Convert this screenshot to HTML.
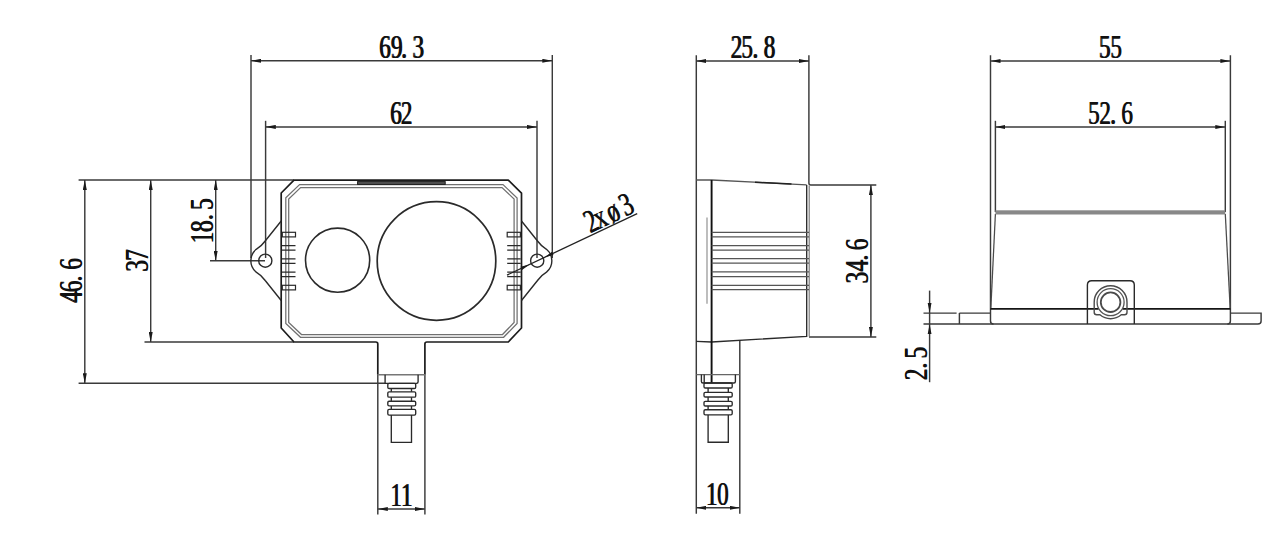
<!DOCTYPE html>
<html><head><meta charset="utf-8">
<style>
html,body{margin:0;padding:0;background:#fff;overflow:hidden;}
svg{display:block;}
text{font-family:"Liberation Serif",serif;}
.d{stroke:#3a3a3a;stroke-width:1.45;fill:none;}
.o{stroke:#1c1c1c;stroke-width:1.7;fill:none;stroke-linejoin:round;}
.m{stroke:#2a2a2a;stroke-width:1.5;fill:none;}
.g{stroke:#707070;stroke-width:1.25;fill:none;}
.a{fill:#1a1a1a;stroke:none;}
</style></head>
<body>
<svg width="1276" height="535" viewBox="0 0 1276 535">
<defs>
<marker id="ar" viewBox="0 0 10 4" refX="10" refY="2" markerWidth="10" markerHeight="4" markerUnits="userSpaceOnUse" orient="auto-start-reverse">
<path d="M0,0 L10,2 L0,4 Z" fill="#1a1a1a"/>
</marker>
</defs>

<!-- ===== FRONT VIEW ===== -->
<g class="d">
<line x1="251" y1="55" x2="251" y2="258"/>
<line x1="552.3" y1="55" x2="552.3" y2="258"/>
<line x1="265.6" y1="120.8" x2="265.6" y2="258"/>
<line x1="537" y1="120.8" x2="537" y2="258"/>
<line x1="78.6" y1="180" x2="294" y2="180"/>
<line x1="144.5" y1="342" x2="294" y2="342"/>
<line x1="78.6" y1="383.3" x2="385.1" y2="383.3"/>
<line x1="210" y1="260.7" x2="265" y2="260.7"/>
</g>
<g class="d" marker-start="url(#ar)" marker-end="url(#ar)">
<line x1="251" y1="60.8" x2="552.3" y2="60.8"/>
<line x1="265.8" y1="126.9" x2="537" y2="126.9"/>
<line x1="84.8" y1="180" x2="84.8" y2="383.3"/>
<line x1="150.7" y1="180" x2="150.7" y2="342"/>
<line x1="215.7" y1="180" x2="215.7" y2="260.8"/>
<line x1="377.8" y1="509" x2="424.9" y2="509"/>
</g>

<!-- body outline -->
<path class="o" d="M424.9,374.7 L424.9,344 Q424.9,342 426.9,342 L508.3,342 L521.5,328 L521.5,193.2 L508.3,180.2 L294,180.2 L281.2,193 L281.2,328 L294,342 L375.8,342 Q377.8,342 377.8,344 L377.8,374.7"/>
<!-- inner double lines -->
<path class="g" d="M299.6,184.6 L503,184.6 L517.1,198 L517.1,323.5 L503.6,337.3 L300.5,337.3 L285.8,323.5 L285.8,197.8 Z"/>
<path class="g" d="M300.6,187.6 L502,187.6 L514.1,199 L514.1,322.5 L502.5,334.5 L301.5,334.5 L288.7,322.5 L288.7,199 Z"/>
<rect x="357.6" y="181.6" width="87.6" height="2.8" fill="#555" stroke="#1c1c1c" stroke-width="1"/>

<!-- lenses -->
<circle class="m" cx="337.6" cy="260.2" r="32.1" style="stroke-width:1.6"/>
<circle class="m" cx="436.5" cy="261" r="59.3" style="stroke-width:1.7"/>

<!-- slots -->
<g class="m" style="stroke-width:1.2">
<rect x="282.3" y="232.3" width="13.2" height="4.6"/>
<rect x="282.3" y="285.3" width="13.2" height="4.6"/>
<path d="M282,245.6 H295.5 M282,250.2 H295.5 M282,258.8 H295.5 M282,263.4 H295.5 M282,272.1 H295.5 M282,276.7 H295.5"/>
<rect x="507.2" y="232.3" width="13.2" height="4.6"/>
<rect x="507.2" y="285.3" width="13.2" height="4.6"/>
<path d="M507.2,245.6 H520.7 M507.2,250.2 H520.7 M507.2,258.8 H520.7 M507.2,263.4 H520.7 M507.2,272.1 H520.7 M507.2,276.7 H520.7"/>
</g>

<!-- ears -->
<g class="m" style="stroke-width:1.4">
<path d="M521.5,221 L537.5,241 Q541.5,246.5 546.5,249.3 A14.8,14.8 0 0 1 546.5,272.1 Q541.5,275 537.5,280.5 L521.5,300.5"/>
<path d="M281.2,221 L265.2,241 Q261.2,246.5 256.2,249.3 A14.8,14.8 0 0 0 256.2,272.1 Q261.2,275 265.2,280.5 L281.2,300.5"/>
<circle cx="537.2" cy="260.7" r="6.6"/>
<circle cx="265.3" cy="260.7" r="6.6"/>
</g>
<!-- leader 2xø3 -->
<line x1="507" y1="275.1" x2="637.2" y2="213.6" stroke="#222" stroke-width="1.3"/>
<path class="a" d="M553.57,255.03 L552.03,251.77 L544.66,257.24 Z"/>
<path class="a" d="M522.07,269.93 L520.53,266.67 L529.44,264.46 Z"/>

<!-- connector front -->
<g class="d">
<line x1="377.8" y1="374.7" x2="377.8" y2="514.6"/>
<line x1="424.9" y1="374.7" x2="424.9" y2="514.6"/>
</g>
<g class="m" style="stroke-width:1.35">
<line x1="377.8" y1="374.7" x2="424.9" y2="374.7" style="stroke:#777"/>
<path d="M385.1,374.7 V383.3 H416.6 Q418.1,383.3 418.1,381.8 V374.7"/>
<rect x="387.8" y="383.3" width="27.9" height="5.2" rx="1.3"/>
<rect x="387.8" y="391.8" width="27.9" height="5.4" rx="1.3"/>
<rect x="387.8" y="401.2" width="27.9" height="4.7" rx="1.3"/>
<rect x="387.8" y="409.4" width="27.9" height="5.7" rx="1.3"/>
<path d="M391.3,388.5 V391.8 M411.5,388.5 V391.8 M391.3,397.2 V401.2 M411.5,397.2 V401.2 M391.3,405.9 V409.4 M411.5,405.9 V409.4 M391.3,415.1 V442.3 H411.5 V415.1"/>
</g>

<!-- ===== SIDE VIEW ===== -->
<g class="d">
<line x1="696.3" y1="55.3" x2="696.3" y2="513.7"/>
<path d="M808.9,55.3 V183 Q808.9,184.9 810.8,184.9 H876.3"/>
<line x1="809" y1="337" x2="876.3" y2="337"/>
<line x1="739.8" y1="340" x2="739.8" y2="513.7"/>
</g>
<g class="d" marker-start="url(#ar)" marker-end="url(#ar)">
<line x1="696.3" y1="61" x2="809" y2="61"/>
<line x1="870.9" y1="185" x2="870.9" y2="337"/>
<line x1="696.3" y1="507.8" x2="739.8" y2="507.8"/>
</g>
<path d="M696.3,180 L711.6,180 L806.7,184.9" stroke="#555" stroke-width="1.3" fill="none"/>
<path d="M809.2,185.5 V336.5" stroke="#777" stroke-width="1.15" fill="none"/>
<line x1="755" y1="182.24" x2="791.5" y2="184.12" stroke="#222" stroke-width="1.5"/>
<path class="m" d="M806.7,184.9 L806.7,336.3 L711.6,342 L696.3,341.4" style="stroke-width:1.35"/>
<line x1="711.6" y1="180" x2="711.6" y2="383" stroke="#111" stroke-width="1.9"/>
<line x1="707" y1="217.6" x2="707" y2="303.8" stroke="#888" stroke-width="1.1"/>
<path class="g" style="stroke:#555;stroke-width:1.3" d="M711.6,232.3 H809 M711.6,236.9 H809 M711.6,245.6 H809 M711.6,250.2 H809 M711.6,258.6 H809 M711.6,263.1 H809 M711.6,271.9 H809 M711.6,276.6 H809 M711.6,285.3 H809 M711.6,289.7 H809"/>
<g class="m" style="stroke-width:1.35">
<line x1="696.3" y1="374.6" x2="739.8" y2="374.6" style="stroke:#666"/>
<path d="M701.4,374.6 V381.5 Q701.4,383 703,383 H733.9 Q735.4,383 735.4,381.5 V374.6 M704.2,374.6 V383"/>
<rect x="704" y="383" width="28.2" height="5" rx="1.3"/>
<rect x="704" y="392.3" width="28.2" height="4.7" rx="1.3"/>
<rect x="704" y="401.3" width="28.2" height="4.7" rx="1.3"/>
<rect x="704" y="409.7" width="28.2" height="5.2" rx="1.3"/>
<path d="M708.1,388 V392.3 M728.3,388 V392.3 M708.1,397 V401.3 M728.3,397 V401.3 M708.1,406 V409.7 M728.3,406 V409.7 M708.1,414.9 V442.2 H728.3 V414.9"/>
</g>

<!-- ===== END VIEW ===== -->
<g class="d">
<line x1="990.5" y1="55.3" x2="990.5" y2="321"/>
<line x1="1230.4" y1="55.3" x2="1230.4" y2="321"/>
<line x1="995.4" y1="120.8" x2="995.4" y2="212"/>
<line x1="1225.3" y1="120.8" x2="1225.3" y2="212"/>
</g>
<g class="g" style="stroke:#4a4a4a">
<line x1="995.4" y1="214" x2="990.8" y2="308.9"/>
<line x1="1225.3" y1="214" x2="1230.2" y2="308.9"/>
</g>
<g class="d" marker-start="url(#ar)" marker-end="url(#ar)">
<line x1="990.5" y1="61" x2="1230.4" y2="61"/>
<line x1="995.4" y1="127" x2="1225.3" y2="127"/>
</g>
<rect x="995.4" y="210.3" width="229.9" height="4.2" fill="#888" stroke="none"/>
<path d="M990.5,308.9 H1098.6 M1122.6,308.9 H1230.4" stroke="#151515" stroke-width="1.6"/>
<path class="d" d="M923.5,313.1 H956.6 M959.4,313.1 H990.5 M923.5,324 H1258 Q1261.1,324 1261.1,321 V313.1 H1230.4 M959.4,313.1 V324"/>
<path class="d" d="M990.5,321 Q990.5,324 993.5,324 M1230.4,321 Q1230.4,324 1227.4,324"/>
<!-- 2.5 dim -->
<line class="d" x1="929.6" y1="290.6" x2="929.6" y2="382.2"/>
<path class="a" d="M927.7,303 L929.6,313.1 L931.5,303 Z M927.7,334 L929.6,324 L931.5,334 Z"/>
<!-- connector end -->
<path class="m" style="stroke-width:1.4" d="M1087.4,323.9 V285 Q1087.4,280.7 1091.7,280.7 H1130 Q1134.3,280.7 1134.3,285 V323.9"/>
<path stroke="#4a4a4a" stroke-width="1.4" fill="none" d="M1094.2,302.2 A16.4,16.4 0 0 1 1127,302.2 V312.3 Q1127,314.8 1124.5,314.8 H1121.25 A16.5,16.5 0 0 1 1099.95,314.8 H1096.7 Q1094.2,314.8 1094.2,312.3 Z"/>
<circle cx="1110.6" cy="302.2" r="13.5" stroke="#555" stroke-width="1.3" fill="none"/>
<circle cx="1110.6" cy="302.2" r="9.8" stroke="#4a4a4a" stroke-width="1.8" fill="none"/>
<!-- ===== TEXT ===== -->
<g fill="#111" font-size="33" font-weight="normal">
<g transform="translate(379.80,58.20) scale(0.700,1)"><text x="-1.42 15.37 30.11 46.14">69.3</text><text x="-0.20 16.58 31.32 47.35">69.3</text></g>
<g transform="translate(390.80,124.10) scale(0.700,1)"><text x="-1.42 13.84">62</text><text x="-0.20 15.05">62</text></g>
<g transform="translate(731.30,58.10) scale(0.700,1)"><text x="-1.45 13.80 29.68 45.74">25.8</text><text x="-0.24 15.01 30.90 46.96">25.8</text></g>
<g transform="translate(1099.90,58.30) scale(0.700,1)"><text x="-1.92 14.37">55</text><text x="-0.70 15.58">55</text></g>
<g transform="translate(1089.00,124.10) scale(0.700,1)"><text x="-1.92 14.26 29.82 45.58">52.6</text><text x="-0.70 15.48 31.04 46.80">52.6</text></g>
<g transform="translate(391.95,506.00) scale(0.700,1)"><text x="-2.90 12.31">11</text><text x="-1.69 13.53">11</text></g>
<g transform="translate(707.60,505.00) scale(0.700,1)"><text x="-2.90 13.03">10</text><text x="-1.69 14.24">10</text></g>
<g transform="translate(81.60,302.70) rotate(-90.00) scale(0.700,1)"><text x="-0.64 14.58 29.82 46.72">46.6</text><text x="0.57 15.80 31.04 47.94">46.6</text></g>
<g transform="translate(147.90,271.00) rotate(-90.00) scale(0.700,1)"><text x="-1.58 13.82">37</text><text x="-0.36 15.04">37</text></g>
<g transform="translate(213.40,241.80) rotate(-90.00) scale(0.700,1)"><text x="-2.90 13.46 30.54 44.94">18.5</text><text x="-1.69 14.67 31.75 46.15">18.5</text></g>
<g transform="translate(868.10,282.70) rotate(-90.00) scale(0.700,1)"><text x="-1.58 15.36 31.11 45.87">34.6</text><text x="-0.36 16.57 32.32 47.08">34.6</text></g>
<g transform="translate(927.10,379.50) rotate(-90.00) scale(0.700,1)"><text x="-1.45 15.11 29.51">2.5</text><text x="-0.24 16.32 30.73">2.5</text></g>
<g transform="translate(590.90,233.10) rotate(-25.30) scale(0.700,1)"><text x="-1.45 12.57 32.73 54.42">2xø3</text><text x="-0.24 13.78 33.94 55.64">2xø3</text></g>

</g>
</svg>
</body></html>
